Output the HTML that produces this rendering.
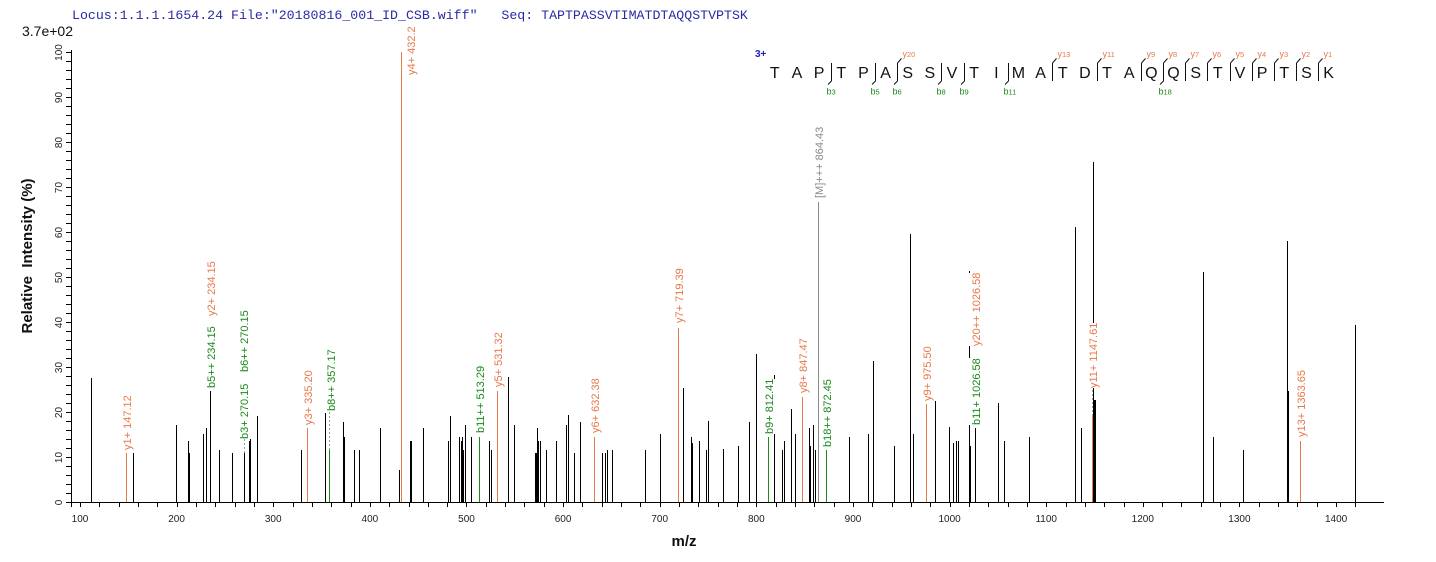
<!DOCTYPE html>
<html><head><meta charset="utf-8"><style>
html,body{margin:0;padding:0;background:#fff;}
#c{position:relative;width:1436px;height:562px;overflow:hidden;background:#fff;}
svg{position:absolute;left:0;top:0;}
.lb{position:absolute;font:11px "Liberation Sans",Arial,sans-serif;line-height:13px;padding:1.5px 0;background:#fff;white-space:nowrap;transform-origin:0 0;transform:rotate(-90deg);}
.o{color:#e8784a;}.g{color:#1a8a1a;}.k{color:#8a8a8a;}
</style></head><body><div id="c">
<svg width="1436" height="562" font-family="Liberation Sans, Arial, sans-serif">
<text x="72" y="19" font-family="Liberation Mono, monospace" font-size="13.25" fill="#2a2aa6" style="white-space:pre">Locus:1.1.1.1654.24 File:"20180816_001_ID_CSB.wiff"   Seq: TAPTPASSVTIMATDTAQQSTVPTSK</text>
<text x="22" y="36" font-size="14" fill="#111">3.7e+02</text>
<g stroke="#000" stroke-width="1" shape-rendering="crispEdges" fill="none">
<path d="M71.5 50V507M71 502.5H1384"/>
<path d="M66 502.5H71M66 493.5H71M66 484.5H71M66 475.5H71M66 466.5H71M66 457.5H71M66 448.5H71M66 439.5H71M66 430.5H71M66 421.5H71M66 412.5H71M66 403.5H71M66 394.5H71M66 385.5H71M66 376.5H71M66 367.5H71M66 358.5H71M66 349.5H71M66 340.5H71M66 331.5H71M66 322.5H71M66 313.5H71M66 304.5H71M66 295.5H71M66 286.5H71M66 277.5H71M66 268.5H71M66 259.5H71M66 250.5H71M66 241.5H71M66 232.5H71M66 223.5H71M66 214.5H71M66 205.5H71M66 196.5H71M66 187.5H71M66 178.5H71M66 169.5H71M66 160.5H71M66 151.5H71M66 142.5H71M66 133.5H71M66 124.5H71M66 115.5H71M66 106.5H71M66 97.5H71M66 88.5H71M66 79.5H71M66 70.5H71M66 61.5H71M66 52.5H71"/>
<path d="M80.5 502V507M99.5 502V507M119.5 502V507M138.5 502V507M157.5 502V507M177.5 502V507M196.5 502V507M215.5 502V507M235.5 502V507M254.5 502V507M273.5 502V507M293.5 502V507M312.5 502V507M331.5 502V507M351.5 502V507M370.5 502V507M389.5 502V507M409.5 502V507M428.5 502V507M447.5 502V507M466.5 502V507M486.5 502V507M505.5 502V507M524.5 502V507M544.5 502V507M563.5 502V507M582.5 502V507M602.5 502V507M621.5 502V507M640.5 502V507M660.5 502V507M679.5 502V507M698.5 502V507M718.5 502V507M737.5 502V507M756.5 502V507M776.5 502V507M795.5 502V507M814.5 502V507M834.5 502V507M853.5 502V507M872.5 502V507M892.5 502V507M911.5 502V507M930.5 502V507M950.5 502V507M969.5 502V507M988.5 502V507M1008.5 502V507M1027.5 502V507M1046.5 502V507M1066.5 502V507M1085.5 502V507M1104.5 502V507M1124.5 502V507M1143.5 502V507M1162.5 502V507M1181.5 502V507M1201.5 502V507M1220.5 502V507M1239.5 502V507M1259.5 502V507M1278.5 502V507M1297.5 502V507M1317.5 502V507M1336.5 502V507M1355.5 502V507"/>
<path d="M91.5 378V502M133.5 453V502M176.5 425V502M188.5 441V502M189.5 453V502M203.5 434V502M206.5 428V502M210.5 391V502M219.5 450V502M232.5 453V502M244.5 453V502M249.5 441V502M250.5 439V502M257.5 416V502M301.5 450V502M325.5 413V502M343.5 422V502M344.5 437V502M354.5 450V502M359.5 450V502M380.5 428V502M399.5 470V502M410.5 441V502M411.5 441V502M423.5 428V502M448.5 441V502M450.5 416V502M459.5 437V502M461.5 441V502M462.5 437V502M463.5 450V502M465.5 425V502M471.5 437V502M489.5 441V502M491.5 450V502M508.5 377V502M514.5 425V502M535.5 453V502M536.5 453V502M537.5 428V502M538.5 441V502M540.5 441V502M546.5 450V502M556.5 441V502M566.5 425V502M568.5 415V502M574.5 453V502M580.5 422V502M602.5 453V502M605.5 453V502M607.5 450V502M612.5 450V502M645.5 450V502M660.5 434V502M683.5 388V502M691.5 437V502M692.5 443V502M699.5 441V502M706.5 450V502M708.5 421V502M723.5 449V502M738.5 446V502M749.5 422V502M756.5 354V502M774.5 375V502M782.5 450V502M784.5 441V502M791.5 409V502M795.5 434V502M809.5 428V502M810.5 446V502M813.5 425V502M815.5 450V502M849.5 437V502M868.5 434V502M873.5 361V502M894.5 446V502M910.5 234V502M913.5 434V502M935.5 394V502M949.5 427V502M953.5 443V502M956.5 441V502M958.5 441V502M969.5 271V502M970.5 446V502M975.5 428V502M998.5 403V502M1004.5 441V502M1029.5 437V502M1075.5 227V502M1081.5 428V502M1093.5 162V502M1094.5 400V502M1095.5 400V502M1203.5 272V502M1213.5 437V502M1243.5 450V502M1287.5 241V502M1288.5 391V502M1355.5 325V502"/>
</g>
<g stroke-width="1" shape-rendering="crispEdges" fill="none">
<path stroke="#e8784a" d="M126.5 453V502M307.5 428V502M401.5 52V502M497.5 391V502M594.5 437V502M678.5 328V502M802.5 397V502M926.5 404V502M1092.5 416V502M1300.5 441V502"/>
<path stroke="#1a8a1a" d="M329.5 450V502M479.5 437V502M768.5 437V502M826.5 450V502"/>
<path stroke="#8a8a8a" d="M818.5 202V502"/>
<path stroke="#9a9a9a" stroke-dasharray="2,2" d="M244.5 439V453M329.5 412V450M1092.5 390V416"/>
</g>
<g font-size="10" fill="#222" text-anchor="middle">
<text transform="translate(62,502.5) rotate(-90)">0</text>
<text transform="translate(62,457.5) rotate(-90)">10</text>
<text transform="translate(62,412.5) rotate(-90)">20</text>
<text transform="translate(62,367.5) rotate(-90)">30</text>
<text transform="translate(62,322.5) rotate(-90)">40</text>
<text transform="translate(62,277.5) rotate(-90)">50</text>
<text transform="translate(62,232.5) rotate(-90)">60</text>
<text transform="translate(62,187.5) rotate(-90)">70</text>
<text transform="translate(62,142.5) rotate(-90)">80</text>
<text transform="translate(62,97.5) rotate(-90)">90</text>
<text transform="translate(62,52.5) rotate(-90)">100</text>
<text x="80" y="522">100</text>
<text x="176.6" y="522">200</text>
<text x="273.2" y="522">300</text>
<text x="369.9" y="522">400</text>
<text x="466.5" y="522">500</text>
<text x="563.1" y="522">600</text>
<text x="659.7" y="522">700</text>
<text x="756.3" y="522">800</text>
<text x="853" y="522">900</text>
<text x="949.6" y="522">1000</text>
<text x="1046.2" y="522">1100</text>
<text x="1142.8" y="522">1200</text>
<text x="1239.4" y="522">1300</text>
<text x="1336.1" y="522">1400</text>
</g>
<text transform="translate(32,256) rotate(-90)" text-anchor="middle" font-size="15" font-weight="bold" fill="#111" style="white-space:pre">Relative  Intensity (%)</text>
<text x="684" y="546" text-anchor="middle" font-size="15" font-weight="bold" fill="#111">m/z</text>
<text x="755" y="57" font-size="10" font-weight="bold" fill="#2020c0">3+</text>
<g font-size="16" text-anchor="middle" fill="#111">
<text x="774.8" y="78">T</text><text x="796.95" y="78">A</text><text x="819.1" y="78">P</text><text x="841.25" y="78">T</text><text x="863.4" y="78">P</text><text x="885.55" y="78">A</text><text x="907.7" y="78">S</text><text x="929.85" y="78">S</text><text x="952" y="78">V</text><text x="974.15" y="78">T</text><text x="996.3" y="78">I</text><text x="1018.45" y="78">M</text><text x="1040.6" y="78">A</text><text x="1062.75" y="78">T</text><text x="1084.9" y="78">D</text><text x="1107.05" y="78">T</text><text x="1129.2" y="78">A</text><text x="1151.35" y="78">Q</text><text x="1173.5" y="78">Q</text><text x="1195.65" y="78">S</text><text x="1217.8" y="78">T</text><text x="1239.95" y="78">V</text><text x="1262.1" y="78">P</text><text x="1284.25" y="78">T</text><text x="1306.4" y="78">S</text><text x="1328.55" y="78">K</text>
</g>
<path stroke="#111" stroke-width="1" fill="none" d="M831.5 63V81M831.5 81L828 84.5M875.5 63V81M875.5 81L872 84.5M941.5 63V81M941.5 81L938 84.5M964.5 63V81M964.5 81L961 84.5M1008.5 63V81M1008.5 81L1005 84.5M897.5 63V81M897.5 63L901.5 58.5M897.5 81L894 84.5M1163.5 63V81M1163.5 63L1167.5 58.5M1163.5 81L1160 84.5M1052.5 63V81M1052.5 63L1056.5 58.5M1097.5 63V81M1097.5 63L1101.5 58.5M1141.5 63V81M1141.5 63L1145.5 58.5M1185.5 63V81M1185.5 63L1189.5 58.5M1207.5 63V81M1207.5 63L1211.5 58.5M1230.5 63V81M1230.5 63L1234.5 58.5M1252.5 63V81M1252.5 63L1256.5 58.5M1274.5 63V81M1274.5 63L1278.5 58.5M1296.5 63V81M1296.5 63L1300.5 58.5M1318.5 63V81M1318.5 63L1322.5 58.5"/>
<g fill="#e8784a">
<text x="902.5" y="57"><tspan font-size="9">y</tspan><tspan font-size="7.5">20</tspan></text>
<text x="1057.5" y="57"><tspan font-size="9">y</tspan><tspan font-size="7.5">13</tspan></text>
<text x="1102.5" y="57"><tspan font-size="9">y</tspan><tspan font-size="7.5">11</tspan></text>
<text x="1146.5" y="57"><tspan font-size="9">y</tspan><tspan font-size="7.5">9</tspan></text>
<text x="1168.5" y="57"><tspan font-size="9">y</tspan><tspan font-size="7.5">8</tspan></text>
<text x="1190.5" y="57"><tspan font-size="9">y</tspan><tspan font-size="7.5">7</tspan></text>
<text x="1212.5" y="57"><tspan font-size="9">y</tspan><tspan font-size="7.5">6</tspan></text>
<text x="1235.5" y="57"><tspan font-size="9">y</tspan><tspan font-size="7.5">5</tspan></text>
<text x="1257.5" y="57"><tspan font-size="9">y</tspan><tspan font-size="7.5">4</tspan></text>
<text x="1279.5" y="57"><tspan font-size="9">y</tspan><tspan font-size="7.5">3</tspan></text>
<text x="1301.5" y="57"><tspan font-size="9">y</tspan><tspan font-size="7.5">2</tspan></text>
<text x="1323.5" y="57"><tspan font-size="9">y</tspan><tspan font-size="7.5">1</tspan></text>
</g>
<g fill="#1a8a1a">
<text x="826.5" y="94.5"><tspan font-size="9">b</tspan><tspan font-size="7.5">3</tspan></text>
<text x="870.5" y="94.5"><tspan font-size="9">b</tspan><tspan font-size="7.5">5</tspan></text>
<text x="892.5" y="94.5"><tspan font-size="9">b</tspan><tspan font-size="7.5">6</tspan></text>
<text x="936.5" y="94.5"><tspan font-size="9">b</tspan><tspan font-size="7.5">8</tspan></text>
<text x="959.5" y="94.5"><tspan font-size="9">b</tspan><tspan font-size="7.5">9</tspan></text>
<text x="1003.5" y="94.5"><tspan font-size="9">b</tspan><tspan font-size="7.5">11</tspan></text>
<text x="1158.5" y="94.5"><tspan font-size="9">b</tspan><tspan font-size="7.5">18</tspan></text>
</g>
</svg>
<div class="lb o" style="left:119.5px;top:450px">y1+ 147.12</div>
<div class="lb g" style="left:203.7px;top:388px">b5++ 234.15</div>
<div class="lb o" style="left:203.7px;top:316px">y2+ 234.15</div>
<div class="lb g" style="left:237px;top:439px">b3+ 270.15</div>
<div class="lb g" style="left:237px;top:371.7px">b6++ 270.15</div>
<div class="lb o" style="left:301.3px;top:425px">y3+ 335.20</div>
<div class="lb g" style="left:323.7px;top:410.7px">b8++ 357.17</div>
<div style="position:absolute;left:0;top:27px;width:1436px;height:535px;overflow:hidden"><div class="lb o" style="left:403.7px;top:48px">y4+ 432.26</div></div>
<div class="lb g" style="left:472.7px;top:433px">b11++ 513.29</div>
<div class="lb o" style="left:491px;top:387px">y5+ 531.32</div>
<div class="lb o" style="left:587.7px;top:433px">y6+ 632.38</div>
<div class="lb o" style="left:672px;top:323px">y7+ 719.39</div>
<div class="lb g" style="left:762px;top:434px">b9+ 812.41</div>
<div class="lb o" style="left:795.7px;top:393px">y8+ 847.47</div>
<div class="lb k" style="left:812px;top:198px">[M]+++ 864.43</div>
<div class="lb g" style="left:820px;top:447px">b18++ 872.45</div>
<div class="lb o" style="left:920.3px;top:401px">y9+ 975.50</div>
<div class="lb g" style="left:969px;top:425px">b11+ 1026.58</div>
<div class="lb o" style="left:969px;top:346px">y20++ 1026.58</div>
<div class="lb o" style="left:1086px;top:388px">y11+ 1147.61</div>
<div class="lb o" style="left:1293.7px;top:437px">y13+ 1363.65</div>
</div></body></html>
